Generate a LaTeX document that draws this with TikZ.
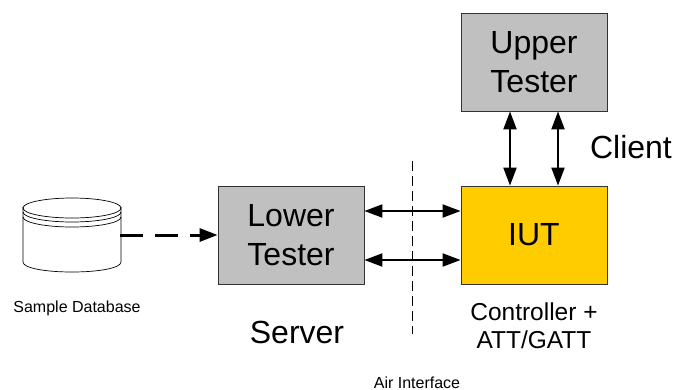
\documentclass[tikz,border=0pt]{standalone}
\usepackage{fontspec}
\setmainfont{Liberation Sans}
\usepackage{color}
\usepackage{tikz}
\usetikzlibrary{arrows.meta}
\definecolor{boxgray}{RGB}{192,192,192}
\definecolor{boxgold}{RGB}{255,204,0}
\tikzset{testbox/.style={draw=black!80, line width=.8pt, minimum width=146pt, minimum height=98pt, inner sep=0pt, align=center, font=\fontsize{32}{39}\selectfont}}
\tikzset{biglabel/.style={font=\fontsize{32}{39}\selectfont, inner sep=0pt}}
\tikzset{smalllabel/.style={font=\fontsize{16}{19}\selectfont, inner sep=0pt}}
\tikzset{link/.style={line width=2pt, {Triangle[length=18pt,width=13pt]}-{Triangle[length=18pt,width=13pt]}}}

\begin{document}
\begin{tikzpicture}[x=1pt, y=-1pt]
\useasboundingbox (0,0) rectangle (674,389);

\node [testbox, fill=boxgray] (upper) at (534,62) {Upper\\Tester};
\node [testbox, fill=boxgold] (iut) at (534,235) {IUT};
\node [testbox, fill=boxgray] (lower) at (291,235) {Lower\\Tester};

\draw[line width=.7pt] (23,207) -- (23,262) .. controls (23,268) and (45,272) .. (72,272) .. controls (99,272) and (121,268) .. (121,262) -- (121,207);
\draw[line width=.7pt] (72,208) ellipse [x radius=49, y radius=10];
\draw[line width=.7pt] (23,212) arc [start angle=180, end angle=360, x radius=49, y radius=-10];
\draw[line width=.7pt] (23,217) arc [start angle=180, end angle=360, x radius=49, y radius=-10];
\coordinate (dbout) at (120,235);

\node [smalllabel] (dbtext) at (77,308) {Sample Database};
\node [smalllabel] (airtext) at (417,383) {Air Interface};
\node [biglabel] (servertext) at (297,332) {Server};
\node [biglabel] (clienttext) at (631,147) {Client};
\node [align=center, inner sep=0pt, font=\fontsize{24.5}{28}\selectfont] (iuttext) at (534,326) {Controller +\\ATT/GATT};

\coordinate (airtop) at (412,161);
\coordinate (airbot) at (412,334);
\draw[line width=.6pt, dash pattern=on 10pt off 5pt] (airtop) -- (airbot);

\draw[line width=3pt, dash pattern=on 23pt off 12pt, -{Triangle[length=18pt,width=13pt]}] (dbout) -- (lower.west);

\draw[link] (lower.east |- 0,211) -- (iut.west |- 0,211);
\draw[link] (lower.east |- 0,260) -- (iut.west |- 0,260);
\draw[link] (510,0 |- upper.south) -- (510,0 |- iut.north);
\draw[link] (558,0 |- upper.south) -- (558,0 |- iut.north);
\end{tikzpicture}
\end{document}
